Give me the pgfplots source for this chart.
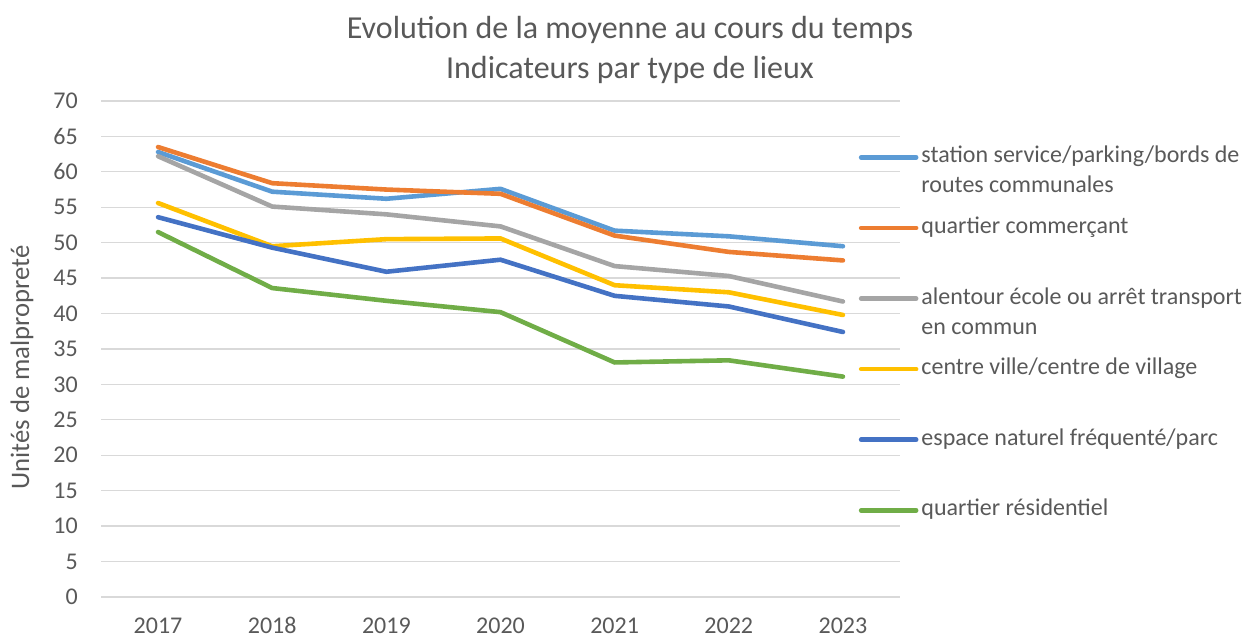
\documentclass[border=0pt]{standalone}
\usepackage{fontspec}
\setmainfont{Carlito}
\usepackage{pgfplots}
\pgfplotsset{compat=1.18}
\definecolor{txt}{HTML}{595959}
\definecolor{gridc}{HTML}{D9D9D9}
\definecolor{s1}{HTML}{5B9BD5}
\definecolor{s2}{HTML}{ED7D31}
\definecolor{s3}{HTML}{A5A5A5}
\definecolor{s4}{HTML}{FFC000}
\definecolor{s5}{HTML}{4472C4}
\definecolor{s6}{HTML}{70AD47}
\newcommand{\twol}[2]{\vtop{\hbox{#1}\hbox{#2}}}
\begin{document}
\begin{tikzpicture}[x=1bp,y=1bp]
\useasboundingbox (0,0) rectangle (1245,639);
\begin{axis}[
  at={(101bp,42bp)}, anchor=south west,
  scale only axis, width=799bp, height=496bp,
  xmin=-0.5, xmax=6.5, ymin=0, ymax=70,
  xtick={0,...,6}, xticklabels={2017,2018,2019,2020,2021,2022,2023},
  ytick={0,5,...,70},
  ymajorgrids, major grid style={color=gridc, line width=1.3bp},
  axis line style={draw=none}, tick style={draw=none},
  /pgf/number format/assume math mode=true,
  tick label style={font=\fontsize{24bp}{29bp}\selectfont, text=txt},
  yticklabel style={anchor=east, inner sep=0pt, xshift=-23bp},
  xticklabel style={anchor=base, inner sep=0pt, yshift=-37bp},
  ylabel={Unités de malpropreté},
  ylabel style={at={(axis description cs:-0.0989,0.4627)}, anchor=center, font=\fontsize{26.7bp}{32bp}\selectfont, text=txt},
  every axis plot/.append style={line width=4.6bp, line cap=round, line join=round},
  legend image code/.code={\draw[#1] (0bp,0bp) -- (55bp,0bp);},
  legend style={at={(axis description cs:0.9445,0.946)}, anchor=north west,
    draw=none, fill=none, font=\fontsize{24bp}{30bp}\selectfont, text=txt,
    nodes={text height=33bp, text depth=21.8bp, inner ysep=0pt, inner xsep=3bp},
    row sep=15.8bp},
  legend cell align=left,
]
\addplot[s1] coordinates {(0,62.8) (1,57.2) (2,56.2) (3,57.6) (4,51.7) (5,50.9) (6,49.5)};
\addplot[s2] coordinates {(0,63.5) (1,58.4) (2,57.5) (3,56.9) (4,51.0) (5,48.7) (6,47.5)};
\addplot[s3] coordinates {(0,62.2) (1,55.1) (2,54.0) (3,52.3) (4,46.7) (5,45.3) (6,41.7)};
\addplot[s4] coordinates {(0,55.6) (1,49.5) (2,50.5) (3,50.6) (4,44.0) (5,43.0) (6,39.8)};
\addplot[s5] coordinates {(0,53.6) (1,49.3) (2,45.9) (3,47.6) (4,42.5) (5,41.0) (6,37.4)};
\addplot[s6] coordinates {(0,51.5) (1,43.6) (2,41.8) (3,40.2) (4,33.1) (5,33.4) (6,31.1)};
\legend{\twol{station service/parking/bords de}{routes communales}, quartier commerçant, \twol{alentour école ou arrêt transport}{en commun}, centre ville/centre de village, espace naturel fréquenté/parc, quartier résidentiel}
\end{axis}
\node[font=\fontsize{32bp}{40bp}\selectfont, text=txt, align=center] at (630,589) {Evolution de la moyenne au cours du temps\\Indicateurs par type de lieux};
\end{tikzpicture}
\end{document}
